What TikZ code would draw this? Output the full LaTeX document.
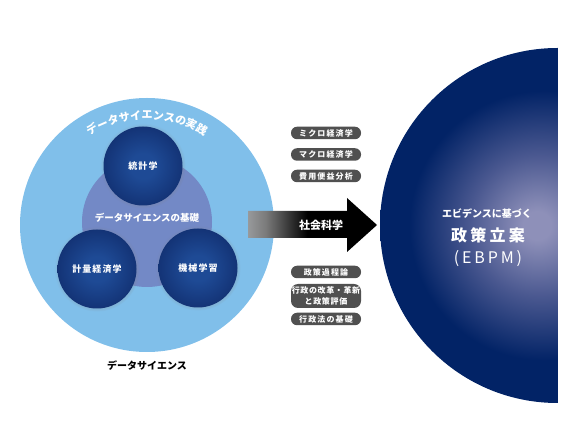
\documentclass[tikz,border=0pt]{standalone}
\usepackage{fontspec}
\setmainfont{Noto Sans CJK JP}
\usetikzlibrary{decorations.text,shadows}
\definecolor{outerblue}{HTML}{80BFEA}
\definecolor{midblue}{HTML}{7389C6}
\definecolor{navy}{HTML}{022366}
\definecolor{ebpmmid}{HTML}{4A5890}
\definecolor{ballin}{HTML}{1E4A95}
\definecolor{ballout}{HTML}{0D2664}
\definecolor{pillgray}{HTML}{505050}
\definecolor{glow}{HTML}{8E90B9}
\definecolor{arrA}{HTML}{A9C5DF}
\definecolor{arrB}{HTML}{B4B8BC}
\definecolor{arrC}{HTML}{7A7A7A}
\pgfdeclareradialshading{ballshade}{\pgfpoint{0bp}{0bp}}{color(0bp)=(ballin); color(8bp)=(ballin); color(35bp)=(ballout); color(50bp)=(ballout)}
\pgfdeclareradialshading{ebpmshade}{\pgfpoint{-3bp}{0bp}}{color(0bp)=(glow); color(2bp)=(glow); color(10bp)=(ebpmmid); color(19bp)=(navy); color(50bp)=(navy)}
\pgfdeclarehorizontalshading{arrowshade}{100bp}{color(0bp)=(arrA); color(18bp)=(arrB); color(32bp)=(arrC); color(48bp)=(black); color(100bp)=(black)}
\tikzset{
  ballnode/.style={circle, shade, shading=ballshade, text=white, minimum size=79, inner sep=0pt,
    font=\fontsize{9}{9}\selectfont\bfseries\addfontfeature{LetterSpace=12},
    circular drop shadow={shadow scale=1.08, opacity=.35, shadow xshift=0pt, shadow yshift=0pt}},
  pill/.style={rounded corners=6pt, fill=pillgray, text=white, minimum width=70, minimum height=12.5,
    inner sep=0pt, align=center, font=\fontsize{8}{9}\selectfont\bfseries\addfontfeature{LetterSpace=14}},
  whitetxt/.style={text=white, inner sep=0pt, align=center},
}
\begin{document}
\begin{tikzpicture}[x=1pt,y=-1pt]
\useasboundingbox (0,0) rectangle (576,435);
% right half circle
\begin{scope}
  \clip (370,40) rectangle (557.5,410);
  \shade[shading=ebpmshade] (557.5,225.5) circle[radius=177.5];
\end{scope}
\node[whitetxt, font=\fontsize{10}{10}\selectfont\bfseries] (ebpm1) at (487,214) {エビデンスに基づく};
\node[whitetxt, font=\fontsize{16}{16}\selectfont\bfseries\addfontfeature{LetterSpace=20}] (ebpm2) at (488,235) {政策立案};
\node[whitetxt, font=\fontsize{16}{16}\selectfont\addfontfeature{LetterSpace=18}] (ebpm3) at (488,259) {(EBPM)};
% left circles
\fill[outerblue] (147,225) circle[radius=127];
\fill[midblue] (147,222) circle[radius=65];
\path[decorate, decoration={text along path, text align=center, text color=white,
  text={|\fontsize{11}{11}\selectfont\bfseries|データサイエンスの実践}}]
  (147,225) ++(-130:106) arc[start angle=-130, end angle=-50, radius=106];
\node[whitetxt, font=\fontsize{9.5}{9.5}\selectfont\bfseries] (base) at (147,218) {データサイエンスの基礎};
\node[ballnode] (stat) at (143,166) {統計学};
\node[ballnode] (econ) at (97,269) {計量経済学};
\node[ballnode] (ml) at (198,268) {機械学習};
\node[inner sep=0pt, font=\fontsize{10}{10}\selectfont\bfseries] (ds) at (147,366) {データサイエンス};
% arrow
\shade[shading=arrowshade] (248,211) -- (347,211) -- (347,198) -- (377,225) -- (347,252) -- (347,238) -- (248,238) -- cycle;
\node[whitetxt, font=\fontsize{11}{11}\selectfont\bfseries] (soc) at (321,225) {社会科学};
% pills
\node[pill] (p1) at (326,133) {ミクロ経済学};
\node[pill] (p2) at (326,154.5) {マクロ経済学};
\node[pill] (p3) at (326,176) {費用便益分析};
\node[pill] (p4) at (326,272) {政策過程論};
\node[pill, minimum height=24, rounded corners=7pt, font=\fontsize{8}{10.5}\selectfont\bfseries\addfontfeature{LetterSpace=8}] (p5) at (326,296) {行政の改革・革新\\と政策評価};
\node[pill] (p6) at (326,319) {行政法の基礎};
\end{tikzpicture}
\end{document}
